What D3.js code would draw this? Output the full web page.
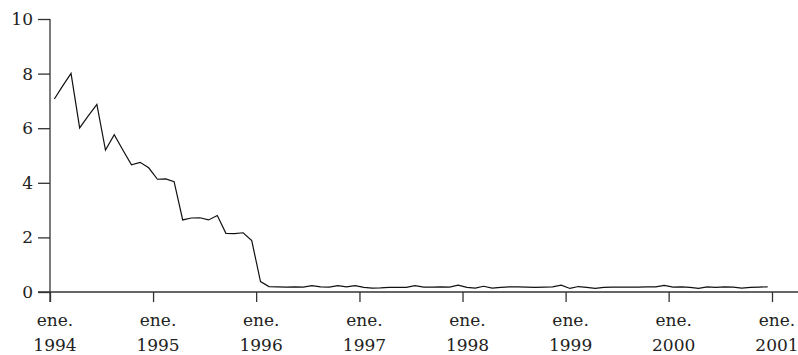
<!DOCTYPE html>
<html>
<head>
<meta charset="utf-8">
<script src="https://cdn.jsdelivr.net/npm/d3@7"></script>
<style>
  body { margin: 0; background: #fff; }
  svg { display: block; }
  text { font-family: "DejaVu Serif", serif; font-size: 17px; fill: #222; }
</style>
</head>
<body>
<div id="chart"></div>
<script>
// monthly series, ene. 1994 - dic. 2000
var firstMonth = "1994-01";
var values = [
  7.07, 7.55, 8.01, 6.01, 6.45, 6.87, 5.20, 5.76, 5.20, 4.66, 4.75, 4.55,
  4.13, 4.14, 4.04, 2.64, 2.71, 2.72, 2.64, 2.80, 2.15, 2.14, 2.17, 1.88,
  0.38, 0.20, 0.19, 0.18, 0.19, 0.18, 0.23, 0.19, 0.18, 0.23, 0.19, 0.23,
  0.17, 0.14, 0.15, 0.17, 0.17, 0.17, 0.23, 0.18, 0.18, 0.19, 0.18, 0.25,
  0.17, 0.14, 0.21, 0.14, 0.17, 0.19, 0.19, 0.18, 0.17, 0.18, 0.19, 0.25,
  0.13, 0.20, 0.17, 0.13, 0.17, 0.18, 0.18, 0.18, 0.18, 0.19, 0.19, 0.24,
  0.18, 0.19, 0.17, 0.13, 0.19, 0.17, 0.19, 0.18, 0.14, 0.17, 0.18, 0.19
];
var yTicks = [0, 2, 4, 6, 8, 10];
var xTickYears = [1994, 1995, 1996, 1997, 1998, 1999, 2000, 2001];
var xTickMonth = "ene.";

var width = 798, height = 355;
var parse = d3.timeParse("%Y-%m");
var start = parse(firstMonth);

// points sit in the middle of each month
var data = values.map(function(v, i) {
  var m = d3.timeMonth.offset(start, i);
  var mid = new Date((m.getTime() + d3.timeMonth.offset(m, 1).getTime()) / 2);
  return { date: mid, value: v };
});

var x = d3.scaleTime()
  .domain([new Date(1994, 0, 1), new Date(2001, 0, 1)])
  .range([50, 772]);
var y = d3.scaleLinear().domain([0, 10]).range([292, 19]);

var svg = d3.select("#chart").append("svg")
  .attr("width", width).attr("height", height);

// y axis
var yAxis = svg.append("g").attr("transform", "translate(50,0)")
  .call(d3.axisLeft(y).tickValues(yTicks).tickSize(12).tickPadding(5));
yAxis.select(".domain").remove();
yAxis.append("line")
  .attr("x1", 0).attr("x2", 0)
  .attr("y1", y(10)).attr("y2", y(0) + 10)
  .attr("stroke", "#333").attr("stroke-width", 1.3);

// x axis
var xAxis = svg.append("g").attr("transform", "translate(0," + y(0) + ")")
  .call(d3.axisBottom(x)
    .tickValues(xTickYears.map(function(yr) { return new Date(yr, 0, 1); }))
    .tickSize(10).tickFormat(""));
xAxis.select(".domain").remove();
xAxis.append("line")
  .attr("x1", 38).attr("x2", width)
  .attr("y1", 0).attr("y2", 0)
  .attr("stroke", "#333").attr("stroke-width", 1.3);

svg.selectAll(".tick line").attr("stroke", "#333").attr("stroke-width", 1.3);
svg.selectAll(".tick text").style("font-family", "DejaVu Serif").style("font-size", "17px").attr("fill", "#222");

// two-line labels under the x ticks
var lbl = svg.append("g").selectAll("text")
  .data(xTickYears).enter().append("text")
  .attr("text-anchor", "middle");
lbl.append("tspan").attr("y", 326).attr("x", function(d) { return x(new Date(d, 0, 1)) + 5; })
  .text(xTickMonth);
lbl.append("tspan").attr("y", 351).attr("x", function(d) { return x(new Date(d, 0, 1)) + 5; })
  .text(function(d) { return d; });

// series line
var line = d3.line()
  .x(function(d) { return x(d.date); })
  .y(function(d) { return y(d.value); });

svg.append("path")
  .datum(data)
  .attr("d", line)
  .attr("fill", "none")
  .attr("stroke", "#111")
  .attr("stroke-width", 1.2)
  .attr("stroke-linejoin", "miter");
</script>
</body>
</html>
